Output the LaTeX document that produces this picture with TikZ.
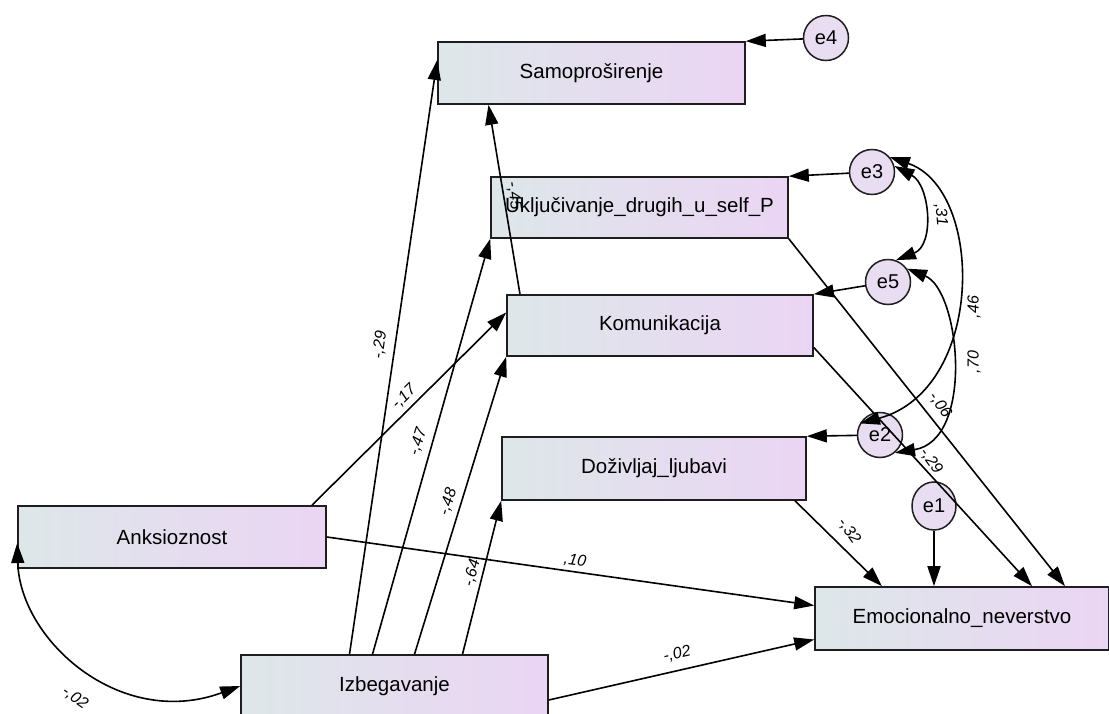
\documentclass[tikz,border=0pt]{standalone}
\usepackage{fontspec}
\setmainfont{Liberation Sans}
\usetikzlibrary{arrows.meta}
\usetikzlibrary{shapes}

\definecolor{boxL}{RGB}{221,231,233}
\definecolor{boxR}{RGB}{235,213,244}
\definecolor{errF}{RGB}{233,221,242}
\definecolor{edgeC}{RGB}{30,30,30}

\begin{document}
\begin{tikzpicture}[x=1pt,y=-1pt,
  varbox/.style={draw=edgeC, line width=1.6pt, rectangle, left color=boxL, right color=boxR,
    minimum height=62pt, font=\fontsize{20.5}{22}\selectfont},
  errcirc/.style={draw=edgeC, line width=1.5pt, circle, fill=errF, inner sep=0pt,
    minimum size=45pt, font=\fontsize{20}{22}\selectfont},
  regline/.style={line width=1.6pt, -{Triangle[length=20pt,width=13pt]}},
  covline/.style={line width=1.6pt, {Triangle[length=20pt,width=13pt]}-{Triangle[length=20pt,width=13pt]}},
  coef/.style={font=\fontsize{16}{17}\selectfont\itshape, inner sep=1pt}]
  \useasboundingbox (0,0) rectangle (1109,714);

  % observed variables
  \node[varbox, minimum width=307pt] (samo) at (591.5,73) {Samoproširenje};
  \node[varbox, minimum width=297pt, minimum height=61pt] (uklj) at (639.5,207.5) {Uključivanje\_drugih\_u\_self\_P};
  \node[varbox, minimum width=306pt, minimum height=61pt] (komu) at (660,325.5) {Komunikacija};
  \node[varbox, minimum width=304pt, minimum height=63pt] (dozi) at (654,468.5) {Doživljaj\_ljubavi};
  \node[varbox, minimum width=308pt] (anks) at (172,537) {Anksioznost};
  \node[varbox, minimum width=307pt] (izbe) at (394.5,686) {Izbegavanje};
  \node[varbox, minimum width=294pt, minimum height=63pt] (emoc) at (962,618.5) {Emocionalno\_neverstvo};

  % errors
  \node[errcirc] (e4) at (826,38) {e4};
  \node[errcirc] (e3) at (872,172) {e3};
  \node[errcirc] (e5) at (888,282) {e5};
  \node[errcirc] (e2) at (880,435) {e2};
  \node[errcirc, ellipse, minimum width=44pt, minimum height=48pt] (e1) at (934,506) {e1};

  \draw[regline] (e4) -- (samo.north east);
  \draw[regline] (e3) -- (uklj.north east);
  \draw[regline] (e5) -- (komu.north east);
  \draw[regline] (e2) -- (dozi.north east);
  \draw[regline] (e1) -- (e1 |- emoc.north);

  \draw[regline] ([xshift=-45pt]izbe.north) -- ([yshift=13pt]samo.west);
  \draw[regline] ([xshift=-22pt]izbe.north) -- (uklj.south west);
  \draw[regline] ([xshift=20pt]izbe.north) -- (komu.south west);
  \draw[regline] ([xshift=68pt]izbe.north) -- (dozi.south west);
  \draw[regline] ([xshift=-140pt]komu.north) -- ([xshift=-103pt]samo.south);
  \draw[regline] ([xshift=140pt]anks.north) -- ([yshift=13pt]komu.west);
  \draw[regline] (anks.east) -- ([yshift=13pt]emoc.west);
  \draw[regline] ([yshift=-14pt]izbe.east) -- ([yshift=-21pt]emoc.west);
  \draw[regline] (uklj.south east) -- ([xshift=103pt]emoc.north);
  \draw[regline] ([yshift=-22pt]komu.east) -- ([xshift=70pt]emoc.north);
  \draw[regline] ([xshift=141pt]dozi.south) -- ([xshift=-80pt]emoc.north);

  % covariances
  \draw[covline] (izbe.west) .. controls (120,730) and (20,640) .. ([yshift=-6pt]anks.west);
  \draw[covline] (e3.15) .. controls (930,185) and (935,245) .. (e5.70);
  \draw[covline] (e3.40) .. controls (985,190) and (985,390) .. (e2.150);
  \draw[covline] (e5.35) .. controls (960,290) and (975,440) .. (e2.-50);

  % coefficients
  \node[coef, rotate=-82] (cKomSam) at (514,196) {-,45};
  \node[coef, rotate=82] (cIzbSam) at (380,345) {-,29};
  \node[coef, rotate=45] (cAnkKom) at (404,397) {-,17};
  \node[coef, rotate=72] (cIzbUkl) at (418,442) {-,47};
  \node[coef, rotate=72] (cIzbKom) at (448,502) {-,48};
  \node[coef, rotate=75] (cIzbDoz) at (472,573) {-,64};
  \node[coef, rotate=-8] (cAnkEmo) at (575,561) {,10};
  \node[coef, rotate=13] (cIzbEmo) at (677,654) {-,02};
  \node[coef, rotate=-35] (cAnkIzb) at (75,698) {-,02};
  \node[coef, rotate=-85] (cE3E5) at (941,215) {,31};
  \node[coef, rotate=90] (cE3E2) at (974,307) {,46};
  \node[coef, rotate=90] (cE5E2) at (974,362) {,70};
  \node[coef, rotate=-55] (cUklEmo) at (940,405) {-,06};
  \node[coef, rotate=-55] (cKomEmo) at (931,461) {-,29};
  \node[coef, rotate=-55] (cDozEmo) at (849,531) {-,32};
\end{tikzpicture}
\end{document}
